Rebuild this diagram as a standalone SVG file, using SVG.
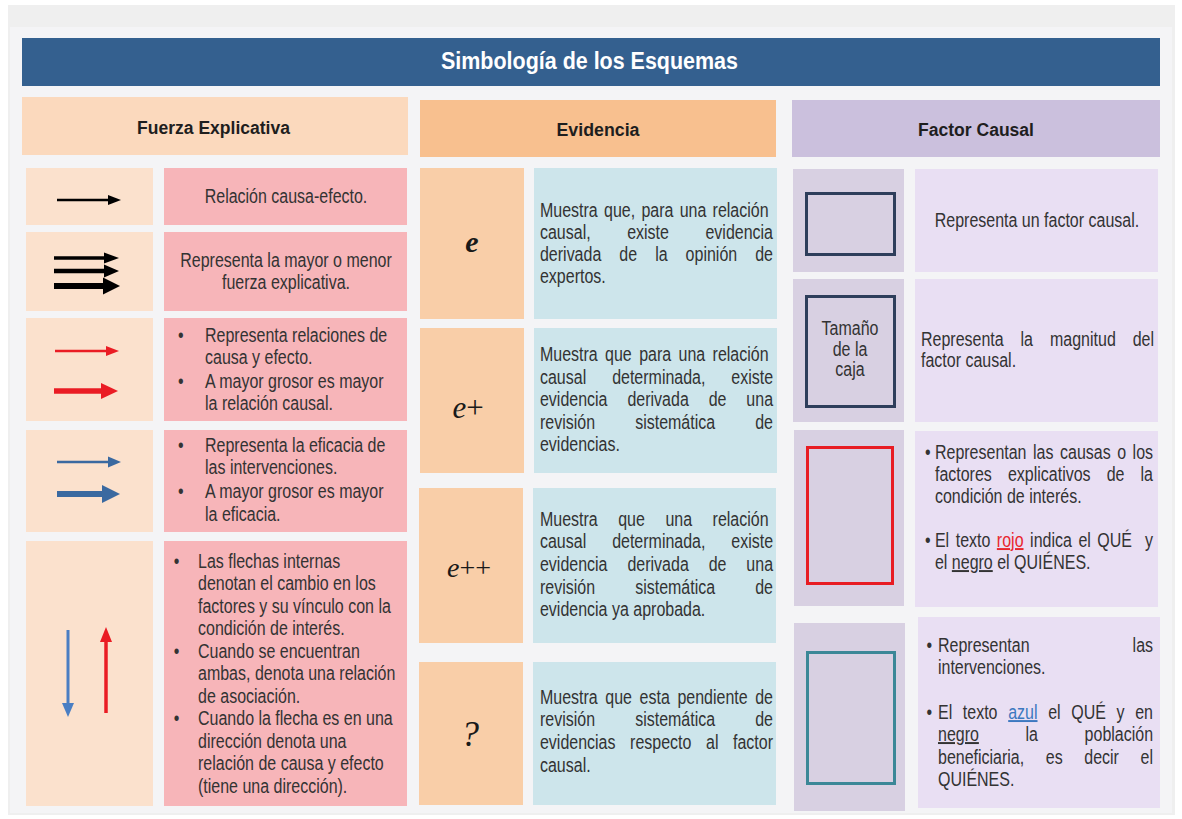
<svg xmlns="http://www.w3.org/2000/svg" width="1182" height="819" viewBox="0 0 1182 819">
<style>
.t{font-family:"Liberation Sans",Arial,sans-serif;font-size:19.5px;fill:#333}
.c{text-anchor:middle}
.h{font-family:"Liberation Sans",Arial,sans-serif;font-weight:bold;font-size:18px;fill:#1e1e1e;text-anchor:middle}
.sym{font-family:"Liberation Serif","Times New Roman",serif;fill:#1a1a1a;text-anchor:middle}
.lic{fill:#fbe1cd}.ltx{fill:#f7b5b9}
.mic{fill:#f9cea8}.mtx{fill:#cde5eb}
.ric{fill:#d8d0e2}.rtx{fill:#e9dff3}
.k{stroke:#000;fill:none}.kf{fill:#000}
.r{stroke:#ea1c24;fill:none}.rf{fill:#ea1c24}
.b{stroke:#3a69a0;fill:none}.bf{fill:#3a69a0}
.b2{stroke:#4a7ec3;fill:none}.b2f{fill:#4a7ec3}
.box{fill:none;stroke-width:3}
</style>
<rect x="0" y="0" width="1182" height="819" fill="#ffffff"/>
<rect x="8" y="5" width="1167" height="810" fill="#efefef"/>
<rect x="10" y="27" width="1162" height="786" fill="#f4f4f6"/>

<g id="title">
<rect x="22" y="38" width="1138" height="48" fill="#34608f"/>
<text x="589.5" y="69" font-family="Liberation Sans,Arial,sans-serif" font-weight="bold" font-size="24" fill="#ffffff" text-anchor="middle" textLength="297" lengthAdjust="spacingAndGlyphs">Simbología de los Esquemas</text>
</g>

<g id="hdr-fuerza">
<rect x="22" y="97" width="386" height="58" fill="#fbd9bd"/>
<text class="h" x="213.5" y="134" font-size="19" textLength="153" lengthAdjust="spacingAndGlyphs">Fuerza Explicativa</text>
</g>
<g id="hdr-evidencia">
<rect x="420" y="100" width="356" height="57" fill="#f8c08f"/>
<text class="h" x="598" y="136" font-size="19" textLength="83" lengthAdjust="spacingAndGlyphs">Evidencia</text>
</g>
<g id="hdr-factor">
<rect x="792" y="100" width="368" height="57" fill="#cbc0dd"/>
<text class="h" x="976" y="136" font-size="19" textLength="116" lengthAdjust="spacingAndGlyphs">Factor Causal</text>
</g>

<!-- Fuerza explicativa rows -->
<g id="fe-1">
<rect class="lic" x="26" y="168" width="127" height="57"/>
<rect class="ltx" x="164" y="168" width="243" height="57"/>
<line class="k" x1="57" y1="200" x2="110" y2="200" stroke-width="2.5"/>
<polygon class="kf" points="108,195 121,200 108,205"/>
<g transform="scale(0.82 1)"><text class="t c" x="348.8" y="203">Relación causa-efecto.</text></g>
</g>
<g id="fe-2">
<rect class="lic" x="26" y="232" width="127" height="79"/>
<rect class="ltx" x="164" y="232" width="243" height="79"/>
<line class="k" x1="54" y1="258" x2="106" y2="258" stroke-width="3.5"/>
<polygon class="kf" points="104,252.5 119,258 104,263.5"/>
<line class="k" x1="54" y1="271" x2="106" y2="271" stroke-width="4.5"/>
<polygon class="kf" points="104,264.5 119,271 104,277.5"/>
<line class="k" x1="54" y1="286" x2="105" y2="286" stroke-width="6"/>
<polygon class="kf" points="103,277.5 120,286 103,294.5"/>
<g transform="scale(0.82 1)">
<text class="t c" x="348.8" y="267">Representa la mayor o menor</text>
<text class="t c" x="348.8" y="289">fuerza explicativa.</text>
</g>
</g>
<g id="fe-3">
<rect class="lic" x="26" y="318" width="127" height="103"/>
<rect class="ltx" x="164" y="318" width="243" height="103"/>
<line class="r" x1="55" y1="351" x2="108" y2="351" stroke-width="2.5"/>
<polygon class="rf" points="106,346 119,351 106,356"/>
<line class="r" x1="54" y1="391" x2="103" y2="391" stroke-width="5.5"/>
<polygon class="rf" points="101,383 118,391 101,399"/>
<g transform="scale(0.82 1)">
<text class="t" x="217" y="342">•</text>
<text class="t" x="250" y="342">Representa relaciones de</text>
<text class="t" x="250" y="364">causa y efecto.</text>
<text class="t" x="217" y="388">•</text>
<text class="t" x="250" y="388">A mayor grosor es mayor</text>
<text class="t" x="250" y="410">la relación causal.</text>
</g>
</g>
<g id="fe-4">
<rect class="lic" x="26" y="430" width="127" height="102"/>
<rect class="ltx" x="164" y="430" width="243" height="102"/>
<line class="b" x1="57" y1="462" x2="110" y2="462" stroke-width="2.5"/>
<polygon class="bf" points="108,456.5 121,462 108,467.5"/>
<line class="b" x1="57" y1="494" x2="104" y2="494" stroke-width="6"/>
<polygon class="bf" points="102,485 120,494 102,503"/>
<g transform="scale(0.82 1)">
<text class="t" x="217" y="452">•</text>
<text class="t" x="250" y="452">Representa la eficacia de</text>
<text class="t" x="250" y="474">las intervenciones.</text>
<text class="t" x="217" y="498">•</text>
<text class="t" x="250" y="498">A mayor grosor es mayor</text>
<text class="t" x="250" y="521">la eficacia.</text>
</g>
</g>
<g id="fe-5">
<rect class="lic" x="26" y="541" width="127" height="265"/>
<rect class="ltx" x="164" y="541" width="243" height="265"/>
<line class="b2" x1="68" y1="630" x2="68" y2="705" stroke-width="3"/>
<polygon class="b2f" points="62,703 68,717 74,703"/>
<line class="r" x1="106" y1="713" x2="106" y2="640" stroke-width="3.5"/>
<polygon class="rf" points="100,642 106,627 112,642"/>
<g transform="scale(0.82 1)">
<text class="t" x="212" y="568">•</text>
<text class="t" x="241.5" y="568">Las flechas internas</text>
<text class="t" x="241.5" y="590.5">denotan el cambio en los</text>
<text class="t" x="241.5" y="613">factores y su vínculo con la</text>
<text class="t" x="241.5" y="635.5">condición de interés.</text>
<text class="t" x="212" y="658">•</text>
<text class="t" x="241.5" y="658">Cuando se encuentran</text>
<text class="t" x="241.5" y="680.5">ambas, denota una relación</text>
<text class="t" x="241.5" y="703">de asociación.</text>
<text class="t" x="212" y="725.5">•</text>
<text class="t" x="241.5" y="725.5">Cuando la flecha es en una</text>
<text class="t" x="241.5" y="748">dirección denota una</text>
<text class="t" x="241.5" y="770.5">relación de causa y efecto</text>
<text class="t" x="241.5" y="793">(tiene una dirección).</text>
</g>
</g>

<!-- Evidencia rows -->
<g id="ev-1">
<rect class="mic" x="420" y="168" width="104" height="151"/>
<rect class="mtx" x="534" y="168" width="243" height="151"/>
<text class="sym" x="472" y="252" font-size="30" font-weight="bold" font-style="italic">e</text>
<g transform="scale(0.82 1)">
<text class="t" y="217"><tspan x="658.5">Muestra</tspan><tspan x="736.6">que,</tspan><tspan x="782.2">para</tspan><tspan x="828.9">una</tspan><tspan x="869">relación</tspan></text>
<text class="t" y="239"><tspan x="658.5">causal,</tspan><tspan x="764.8">existe</tspan><tspan x="860.3">evidencia</tspan></text>
<text class="t" y="261"><tspan x="658.5">derivada</tspan><tspan x="755.3">de</tspan><tspan x="799">la</tspan><tspan x="836.1">opinión</tspan><tspan x="921">de</tspan></text>
<text class="t" x="658.5" y="283">expertos.</text>
</g>
</g>
<g id="ev-2">
<rect class="mic" x="420" y="328" width="104" height="145"/>
<rect class="mtx" x="534" y="328" width="243" height="145"/>
<text class="sym" x="468" y="418" font-size="31"><tspan font-style="italic">e</tspan>+</text>
<g transform="scale(0.82 1)">
<text class="t" y="361"><tspan x="658.5">Muestra</tspan><tspan x="737.9">que</tspan><tspan x="779.5">para</tspan><tspan x="827.5">una</tspan><tspan x="869">relación</tspan></text>
<text class="t" y="384"><tspan x="658.5">causal</tspan><tspan x="746.5">determinada,</tspan><tspan x="891.8">existe</tspan></text>
<text class="t" y="406"><tspan x="658.5">evidencia</tspan><tspan x="765.2">derivada</tspan><tspan x="864.2">de</tspan><tspan x="910.2">una</tspan></text>
<text class="t" y="429"><tspan x="658.5">revisión</tspan><tspan x="774.6">sistemática</tspan><tspan x="921">de</tspan></text>
<text class="t" x="658.5" y="451">evidencias.</text>
</g>
</g>
<g id="ev-3">
<rect class="mic" x="419" y="488" width="104" height="155"/>
<rect class="mtx" x="533" y="488" width="243" height="155"/>
<text class="sym" x="469" y="577" font-size="28"><tspan font-style="italic">e</tspan>++</text>
<g transform="scale(0.82 1)">
<text class="t" y="526"><tspan x="658.5">Muestra</tspan><tspan x="753.9">que</tspan><tspan x="811.5">una</tspan><tspan x="869">relación</tspan></text>
<text class="t" y="548"><tspan x="658.5">causal</tspan><tspan x="746.5">determinada,</tspan><tspan x="891.8">existe</tspan></text>
<text class="t" y="571"><tspan x="658.5">evidencia</tspan><tspan x="765.2">derivada</tspan><tspan x="864.2">de</tspan><tspan x="910.2">una</tspan></text>
<text class="t" y="594"><tspan x="658.5">revisión</tspan><tspan x="774.6">sistemática</tspan><tspan x="921">de</tspan></text>
<text class="t" x="658.5" y="616">evidencia ya aprobada.</text>
</g>
</g>
<g id="ev-4">
<rect class="mic" x="419" y="662" width="104" height="143"/>
<rect class="mtx" x="533" y="662" width="243" height="143"/>
<text class="sym" x="470" y="746" font-size="36" font-style="italic">?</text>
<g transform="scale(0.82 1)">
<text class="t" y="704"><tspan x="658.5">Muestra</tspan><tspan x="738.2">que</tspan><tspan x="780">esta</tspan><tspan x="826.1">pendiente</tspan><tspan x="921">de</tspan></text>
<text class="t" y="726"><tspan x="658.5">revisión</tspan><tspan x="774.6">sistemática</tspan><tspan x="921">de</tspan></text>
<text class="t" y="749"><tspan x="658.5">evidencias</tspan><tspan x="768.4">respecto</tspan><tspan x="861">al</tspan><tspan x="893.9">factor</tspan></text>
<text class="t" x="658.5" y="772">causal.</text>
</g>
</g>

<!-- Factor causal rows -->
<g id="fc-1">
<rect class="ric" x="793" y="169" width="111" height="103"/>
<rect class="rtx" x="915" y="169" width="243" height="103"/>
<rect class="box" x="806.5" y="193.5" width="88" height="61" stroke="#2e3e5b"/>
<g transform="scale(0.82 1)"><text class="t c" x="1264.6" y="227">Representa un factor causal.</text></g>
</g>
<g id="fc-2">
<rect class="ric" x="793" y="279" width="111" height="143"/>
<rect class="rtx" x="915" y="279" width="243" height="143"/>
<rect class="box" x="806.5" y="296.5" width="88" height="110" stroke="#2e3e5b"/>
<g transform="scale(0.82 1)">
<text class="t c" x="1036.6" y="335" font-size="16.5" fill="#444">Tamaño</text>
<text class="t c" x="1036.6" y="356" font-size="16.5" fill="#444">de la</text>
<text class="t c" x="1036.6" y="376" font-size="16.5" fill="#444">caja</text>
<text class="t" y="346"><tspan x="1123.2">Representa</tspan><tspan x="1244.6">la</tspan><tspan x="1280.5">magnitud</tspan><tspan x="1381.3">del</tspan></text>
<text class="t" x="1123.2" y="367">factor causal.</text>
</g>
</g>
<g id="fc-3">
<rect class="ric" x="794" y="430" width="110" height="176"/>
<rect class="rtx" x="915" y="431" width="243" height="176"/>
<rect class="box" x="807.5" y="447.5" width="85" height="136" stroke="#e81c23"/>
<g transform="scale(0.82 1)">
<text class="t" x="1128" y="459">•</text>
<text class="t" y="459"><tspan x="1140.2">Representan</tspan><tspan x="1259.8">las</tspan><tspan x="1292.7">causas</tspan><tspan x="1362.4">o</tspan><tspan x="1381.2">los</tspan></text>
<text class="t" y="481"><tspan x="1140.2">factores</tspan><tspan x="1229.2">explicativos</tspan><tspan x="1349.6">de</tspan><tspan x="1390.9">la</tspan></text>
<text class="t" x="1140.2" y="503">condición de interés.</text>
<text class="t" x="1128" y="547">•</text>
<text class="t" y="547"><tspan x="1140.2">El</tspan><tspan x="1165.5">texto</tspan><tspan x="1215.7" fill="#e8262d" text-decoration="underline">rojo</tspan><tspan x="1256.2">indica</tspan><tspan x="1315.1">el</tspan><tspan x="1338.2">QUÉ</tspan><tspan x="1396.3">y</tspan></text>
<text class="t" x="1140.2" y="569">el <tspan text-decoration="underline">negro</tspan> el QUIÉNES.</text>
</g>
</g>
<g id="fc-4">
<rect class="ric" x="794" y="623" width="111" height="188"/>
<rect class="rtx" x="918" y="617" width="242" height="191"/>
<rect class="box" x="807.5" y="652.5" width="87" height="131" stroke="#3b8797"/>
<g transform="scale(0.82 1)">
<text class="t" x="1130" y="652">•</text>
<text class="t" y="652"><tspan x="1143.9">Representan</tspan><tspan x="1381.2">las</tspan></text>
<text class="t" x="1143.9" y="674">intervenciones.</text>
<text class="t" x="1130" y="719">•</text>
<text class="t" y="719"><tspan x="1143.9">El</tspan><tspan x="1174.2">texto</tspan><tspan x="1229.5" fill="#3c78c0" text-decoration="underline">azul</tspan><tspan x="1278.3">el</tspan><tspan x="1306.4">QUÉ</tspan><tspan x="1361.7">y</tspan><tspan x="1384.4">en</tspan></text>
<text class="t" y="741"><tspan x="1143.9" text-decoration="underline">negro</tspan><tspan x="1250.6">la</tspan><tspan x="1322.7">población</tspan></text>
<text class="t" y="764"><tspan x="1143.9">beneficiaria,</tspan><tspan x="1275.4">es</tspan><tspan x="1322.3">decir</tspan><tspan x="1390.9">el</tspan></text>
<text class="t" x="1143.9" y="786">QUIÉNES.</text>
</g>
</g>
</svg>
